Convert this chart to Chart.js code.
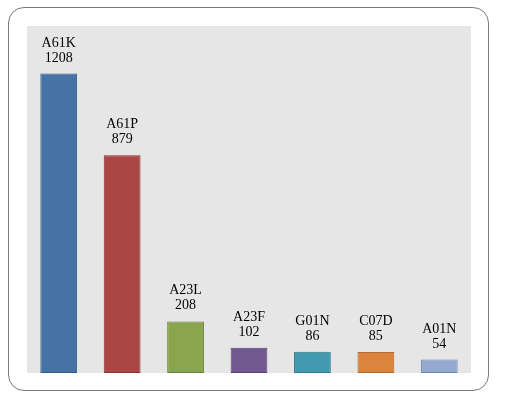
<!DOCTYPE html>
<html>
<head>
<meta charset="utf-8">
<script src="https://cdn.jsdelivr.net/npm/chart.js@4/dist/chart.umd.min.js"></script>
<style>
  html, body { margin: 0; padding: 0; background: #fff; }
  #wrap { position: relative; width: 506px; height: 399px; }
  #frame {
    position: absolute; left: 8px; top: 7px; width: 481px; height: 384px;
    border: 1px solid #7a7a7a; border-radius: 16px; box-sizing: border-box;
  }
  canvas { position: absolute; left: 0; top: 0; }
</style>
</head>
<body>
<div id="wrap">
  <div id="frame"></div>
  <canvas id="chart" width="506" height="399"></canvas>
</div>
<script>
const categories = ['A61K', 'A61P', 'A23L', 'A23F', 'G01N', 'C07D', 'A01N'];
const counts = [1208, 879, 208, 102, 86, 85, 54];
const fillColors = ['#4672a6', '#aa4644', '#89a54e', '#71588f', '#4298af', '#db843d', '#93a9d0'];
const edgeColors = ['#355a86', '#873432', '#6b833a', '#564370', '#2f7a8d', '#b36a2c', '#6e87b0'];

// grey plot background
const plotBackground = {
    id: 'plotBackground',
    beforeDraw(chart) {
        const { ctx, chartArea } = chart;
        ctx.save();
        ctx.fillStyle = '#e6e6e6';
        ctx.fillRect(chartArea.left, chartArea.top, chartArea.right - chartArea.left, chartArea.bottom - chartArea.top);
        ctx.restore();
    }
};

// two-line labels above each bar: category and value
const barLabels = {
    id: 'barLabels',
    afterDatasetsDraw(chart) {
        const { ctx } = chart;
        const meta = chart.getDatasetMeta(0);
        ctx.save();
        ctx.fillStyle = '#000';
        ctx.font = '14px "Liberation Serif", serif';
        ctx.textAlign = 'center';
        ctx.textBaseline = 'alphabetic';
        meta.data.forEach((bar, i) => {
            ctx.fillText(categories[i], bar.x, bar.y - 27);
            ctx.fillText(String(counts[i]), bar.x, bar.y - 12);
        });
        ctx.restore();
    }
};

new Chart(document.getElementById('chart'), {
    type: 'bar',
    data: {
        labels: categories,
        datasets: [{
            data: counts,
            backgroundColor: fillColors,
            borderColor: edgeColors,
            borderWidth: 1,
            borderSkipped: false,
            categoryPercentage: 1,
            barPercentage: 0.58
        }]
    },
    options: {
        responsive: false,
        animation: false,
        layout: { padding: { left: 27, right: 35, top: 26, bottom: 26 } },
        plugins: {
            legend: { display: false },
            tooltip: { enabled: false }
        },
        scales: {
            x: { display: false },
            y: { display: false, min: 0, max: 1400 }
        }
    },
    plugins: [plotBackground, barLabels]
});
</script>
</body>
</html>
